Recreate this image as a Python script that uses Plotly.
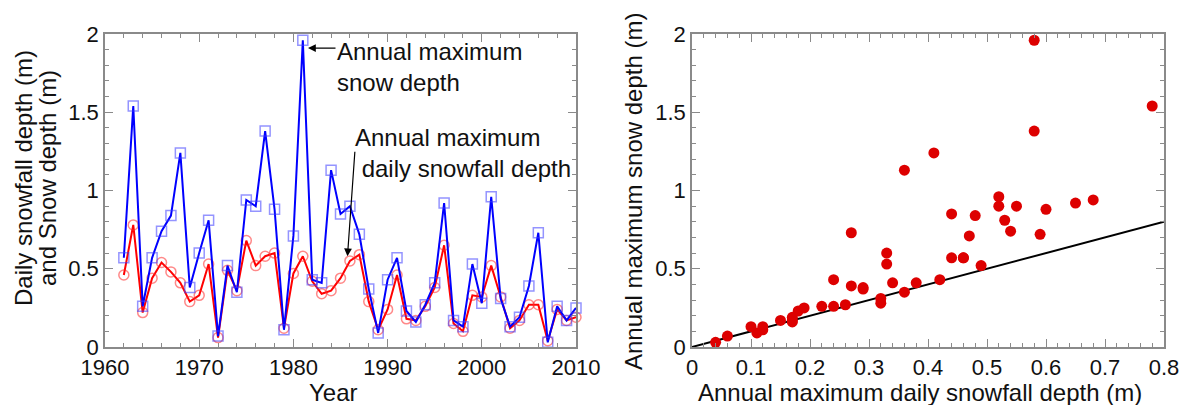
import plotly.graph_objects as go

# ---------------- data ----------------
years = list(range(1962, 2011))

snow_depth = [0.57, 1.54, 0.26, 0.57, 0.74, 0.84, 1.24, 0.38, 0.60, 0.81,
              0.07, 0.52, 0.35, 0.94, 0.90, 1.38, 0.88, 0.11, 0.71, 1.96,
              0.43, 0.41, 1.13, 0.85, 0.90, 0.72, 0.37, 0.09, 0.43, 0.57,
              0.23, 0.16, 0.27, 0.41, 0.92, 0.17, 0.13, 0.53, 0.28, 0.96,
              0.31, 0.13, 0.19, 0.39, 0.73, 0.03, 0.26, 0.17, 0.25]

daily_snowfall = [0.46, 0.78, 0.22, 0.44, 0.54, 0.48, 0.41, 0.29, 0.33, 0.53,
                  0.06, 0.49, 0.36, 0.68, 0.52, 0.58, 0.60, 0.12, 0.47, 0.58,
                  0.42, 0.34, 0.36, 0.44, 0.55, 0.59, 0.29, 0.11, 0.24, 0.46,
                  0.18, 0.17, 0.26, 0.38, 0.65, 0.15, 0.10, 0.33, 0.32, 0.52,
                  0.32, 0.12, 0.17, 0.27, 0.27, 0.04, 0.24, 0.17, 0.19]

one_to_one_x = [0, 0.8]
one_to_one_y = [0, 0.8]

x_ticks_left = [1960, 1970, 1980, 1990, 2000, 2010]
y_ticks = [0, 0.5, 1, 1.5, 2]
x_ticks_right = [0, 0.1, 0.2, 0.3, 0.4, 0.5, 0.6, 0.7, 0.8]

FONT = "Liberation Sans, Arial, sans-serif"
W, H = 1186, 405
AXC = "#8a8a8a"

fig = go.Figure()

# left panel
fig.add_trace(go.Scatter(
    x=years, y=daily_snowfall, mode="lines+markers",
    line=dict(color="#ff0000", width=2),
    marker=dict(symbol="circle-open", size=10, color="rgba(255,40,40,0.55)",
                line=dict(width=1.5, color="rgba(255,40,40,0.55)")),
    cliponaxis=False, showlegend=False, xaxis="x", yaxis="y"))
fig.add_trace(go.Scatter(
    x=years, y=snow_depth, mode="lines+markers",
    line=dict(color="#0000ff", width=2),
    marker=dict(symbol="square-open", size=10, color="rgba(60,60,255,0.55)",
                line=dict(width=1.5, color="rgba(60,60,255,0.55)")),
    cliponaxis=False, showlegend=False, xaxis="x", yaxis="y"))

# right panel
fig.add_trace(go.Scatter(
    x=one_to_one_x, y=one_to_one_y, mode="lines",
    line=dict(color="black", width=2), showlegend=False,
    xaxis="x2", yaxis="y2"))
fig.add_trace(go.Scatter(
    x=daily_snowfall, y=snow_depth, mode="markers",
    marker=dict(symbol="circle", size=11, color="#dd0000"),
    cliponaxis=False, showlegend=False, xaxis="x2", yaxis="y2"))

def px_x(p):
    return p / W

def px_y(p):
    return 1 - p / H

common = dict(showline=True, linecolor=AXC, linewidth=1.5, mirror="allticks",
              ticks="inside", ticklen=8, tickwidth=1.2, tickcolor=AXC,
              showgrid=False, zeroline=False, automargin=False,
              tickfont=dict(family=FONT, size=22, color="#111111"))

ydom = [px_y(347), px_y(34)]

fig.update_layout(
    width=W, height=H,
    margin=dict(l=0, r=0, t=0, b=0, pad=0, autoexpand=False),
    paper_bgcolor="white", plot_bgcolor="white",
    font=dict(family=FONT, size=22, color="#111111"),
    xaxis=dict(domain=[px_x(105), px_x(576)], range=[1960, 2010],
               tickvals=x_ticks_left,
               minor=dict(ticks="inside", dtick=2, tick0=1960, ticklen=4,
                          tickcolor=AXC, tickwidth=1.2),
               anchor="y", **common),
    yaxis=dict(domain=ydom, range=[0, 2], tickvals=y_ticks,
               minor=dict(ticks="inside", dtick=0.1, tick0=0, ticklen=4,
                          tickcolor=AXC, tickwidth=1.2),
               anchor="x", **common),
    xaxis2=dict(domain=[px_x(692), px_x(1164)], range=[0, 0.8],
                tickvals=x_ticks_right,
                minor=dict(ticks="inside", dtick=0.02, tick0=0, ticklen=4,
                           tickcolor=AXC, tickwidth=1.2),
                anchor="y2", **common),
    yaxis2=dict(domain=ydom, range=[0, 2], tickvals=y_ticks,
                minor=dict(ticks="inside", dtick=0.1, tick0=0, ticklen=4,
                           tickcolor=AXC, tickwidth=1.2),
                anchor="x2", **common),
)

title_font = dict(family=FONT, size=24, color="#111111")
ann = []
# axis titles
ann.append(dict(text="Year", x=px_x(333), y=px_y(392), xref="paper", yref="paper",
                showarrow=False, font=title_font, xanchor="center", yanchor="middle"))
ann.append(dict(text="Annual maximum daily snowfall depth (m)", x=px_x(920), y=px_y(392),
                xref="paper", yref="paper", showarrow=False, font=title_font,
                xanchor="center", yanchor="middle"))
ann.append(dict(text="Daily snowfall depth (m)", x=px_x(23), y=px_y(178),
                xref="paper", yref="paper", showarrow=False, font=title_font,
                textangle=-90, xanchor="center", yanchor="middle"))
ann.append(dict(text="and Snow depth (m)", x=px_x(47), y=px_y(178),
                xref="paper", yref="paper", showarrow=False, font=title_font,
                textangle=-90, xanchor="center", yanchor="middle"))
ann.append(dict(text="Annual maximum snow depth (m)", x=px_x(633), y=px_y(192),
                xref="paper", yref="paper", showarrow=False, font=title_font,
                textangle=-90, xanchor="center", yanchor="middle"))
# in-plot labels
ann.append(dict(text="Annual maximum<br>snow depth", x=px_x(335), y=px_y(67.5),
                xref="paper", yref="paper", showarrow=False, font=title_font,
                xanchor="left", yanchor="middle", align="left"))
ann.append(dict(text="Annual maximum<br>\u00a0daily snowfall depth", x=px_x(353), y=px_y(153),
                xref="paper", yref="paper", showarrow=False, font=title_font,
                xanchor="left", yanchor="middle", align="left"))
# arrows
ann.append(dict(text="", x=1981.55, y=1.91, xref="x", yref="y", ax=29, ay=0,
                showarrow=True, arrowhead=2, arrowsize=1.3, arrowwidth=1.2,
                arrowcolor="black"))
ann.append(dict(text="", x=1985.74, y=0.58, xref="x", yref="y", ax=7.5, ay=-106,
                showarrow=True, arrowhead=2, arrowsize=1.3, arrowwidth=1.2,
                arrowcolor="black"))
fig.update_layout(annotations=ann)

fig.write_html("out.html")
